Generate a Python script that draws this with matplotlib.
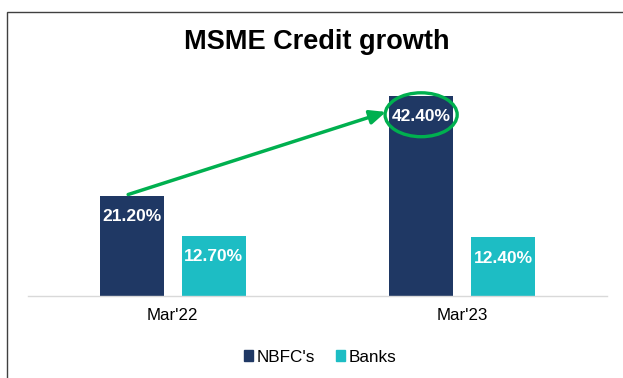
import numpy as np
import matplotlib
matplotlib.use("Agg")
import matplotlib.pyplot as plt
from matplotlib.patches import Ellipse, Patch, Rectangle

plt.rcParams["font.family"] = ["Liberation Sans", "DejaVu Sans"]

categories = ["Mar'22", "Mar'23"]
nbfc = [21.2, 42.4]
banks = [12.7, 12.4]
series_names = ["NBFC's", "Banks"]

navy = "#1F3864"
teal = "#1DBDC4"
green = "#00B04F"


def add_labels(ax, xs, vals):
    for x, v in zip(xs, vals):
        ax.annotate(f"{v:.2f}%", xy=(x, v), xytext=(0, -15), textcoords="offset points",
                    ha="center", va="center", color="white", fontsize=12.5, fontweight="bold")


fig = plt.figure(figsize=(6.23, 3.78), dpi=100)
ax = fig.add_axes([28 / 623, 82 / 378, 579 / 623, 236 / 378])

x = np.arange(len(categories))
off, w = 0.142, 0.222
ax.bar(x - off, nbfc, width=w, color=navy, label=series_names[0])
ax.bar(x + off, banks, width=w, color=teal, label=series_names[1])
add_labels(ax, x - off, nbfc)
add_labels(ax, x + off, banks)

ax.set_xlim(-0.5, 1.5)
ax.set_ylim(0, 50)
ax.set_xticks(x, categories, fontsize=12.2)
ax.tick_params(axis="x", length=0, pad=9)
ax.set_yticks([])
for s in ["top", "right", "left"]:
    ax.spines[s].set_visible(False)
ax.spines["bottom"].set_color("#D9D9D9")
ax.spines["bottom"].set_linewidth(1)

# highlight on the Mar'23 NBFC label
ex, ey = x[1] - off, nbfc[1] - 4.0
ew, eh = 0.249, 9.3
ax.add_patch(Ellipse((ex, ey), ew, eh, fill=False, edgecolor=green, lw=2.4, zorder=5))
ax.annotate("", xy=(ex - ew / 2 + 0.003, ey + 0.6), xytext=(x[0] - off - 0.012, nbfc[0] + 0.3),
            arrowprops=dict(arrowstyle="-|>,head_length=0.95,head_width=0.42",
                            color=green, lw=2.5, shrinkA=0, shrinkB=0))

fig.text(317 / 623, 1 - 42 / 378, "MSME Credit growth", ha="center", va="center",
         fontsize=19.5, fontweight="bold")

handles = [Patch(color=navy), Patch(color=teal)]
fig.legend(handles, series_names, loc="center", bbox_to_anchor=(320 / 623, 1 - 357 / 378),
           ncol=2, frameon=False, fontsize=12.3, handlelength=0.55, handleheight=0.55,
           handletextpad=0.2, columnspacing=1.2)

fig.patches.append(Rectangle((6.5 / 623, -0.1), 1.2, 1.1 - 11.5 / 378,
                             transform=fig.transFigure, fill=False, edgecolor="#404040",
                             lw=1.0, figure=fig))

fig.savefig("out.png", dpi=100)
